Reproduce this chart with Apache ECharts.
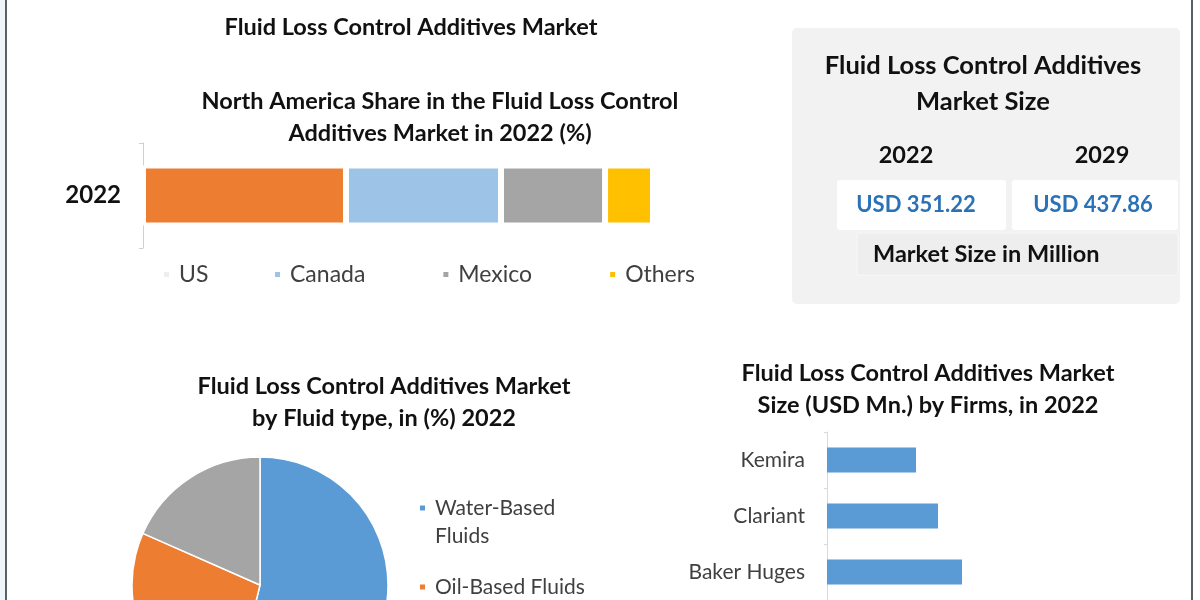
<!DOCTYPE html>
<html>
<head>
<meta charset="utf-8">
<script src="https://cdn.jsdelivr.net/npm/echarts@6/dist/echarts.min.js"></script>
<style>
html,body{margin:0;padding:0;background:#fff;}
#c{width:1200px;height:600px;}
</style>
</head>
<body>
<div id="c"></div>
<script>
// ---- data ----
const naCategories = ['2022'];
const naSeriesNames = ['US', 'Canada', 'Mexico', 'Others'];
const naShares = [39.8, 30.4, 20.4, 9.4];
const fluidTypes = ['Water-Based Fluids', 'Oil-Based Fluids', 'Synthetic-Based Fluids'];
const fluidShares = [53.8, 27.8, 18.4];
const firms = ['Kemira', 'Clariant', 'Baker Huges'];
const firmSizes = [8.9, 11.1, 13.5];
const sizeYears = ['2022', '2029'];
const sizeValues = ['USD 351.22', 'USD 437.86'];

const FONT = 'Lato';
const naColors = ['#ed7d31', '#9dc3e6', '#a5a5a5', '#ffc000'];
const pieColors = ['#5b9bd5', '#ed7d31', '#a5a5a5'];

const chart = echarts.init(document.getElementById('c'), null, {renderer: 'canvas'});

const titleBase = {textAlign: 'center', padding: 0,
  textStyle: {fontFamily: FONT, fontWeight: 'bold', fontSize: 23.5, color: '#111', lineHeight: 32}};

const naLegendBase = {top: 263, padding: 0, itemWidth: 7, itemHeight: 7, itemGap: 76, icon: 'rect',
  textStyle: {fontFamily: FONT, fontSize: 23, color: '#404040', padding: [0, 0, 0, 4]}};

const option = {
  backgroundColor: '#ffffff',
  animation: false,
  title: [
    Object.assign({}, titleBase, {text: 'Fluid Loss Control Additives Market', left: 411, top: 11}),
    Object.assign({}, titleBase, {text: 'North America Share in the Fluid Loss Control\nAdditives Market in 2022 (%)', left: 440, top: 85}),
    Object.assign({}, titleBase, {text: 'Fluid Loss Control Additives Market\nby Fluid type, in (%) 2022', left: 384, top: 370}),
    Object.assign({}, titleBase, {text: 'Fluid Loss Control Additives Market\nSize (USD Mn.) by Firms, in 2022', left: 928, top: 357}),
    Object.assign({}, titleBase, {text: 'Fluid Loss Control Additives\nMarket Size', left: 983, top: 48, z: 10,
      textStyle: {fontFamily: FONT, fontWeight: 'bold', fontSize: 25.5, color: '#111', lineHeight: 36}})
  ],
  legend: [
    Object.assign({}, naLegendBase, {
      data: [{name: naSeriesNames[0], itemStyle: {color: '#eeeeee'}}], left: 162
    }),
    Object.assign({}, naLegendBase, {
      data: naSeriesNames.slice(1), left: 273
    }),
    {
      data: fluidTypes,
      formatter: function (name) { return (name === fluidTypes[0] ? '\n' : '') + name; },
      orient: 'vertical', left: 418, top: 466, height: 600, padding: 0, itemWidth: 7, itemHeight: 7, itemGap: 23, icon: 'rect',
      textStyle: {fontFamily: FONT, fontSize: 21, color: '#404040', lineHeight: 28, width: 165, overflow: 'break', padding: [0, 0, 0, 4]}
    }
  ],
  grid: [
    {left: 143, top: 143, width: 510, height: 105, containLabel: false},
    {left: 827, top: 432, width: 350, height: 168, containLabel: false}
  ],
  xAxis: [
    {gridIndex: 0, type: 'value', min: 0, max: 100, show: false},
    {gridIndex: 1, type: 'value', min: 0, max: 35, show: false}
  ],
  yAxis: [
    {gridIndex: 0, type: 'category', data: naCategories,
      axisLine: {show: true, lineStyle: {color: '#d0d0d0'}},
      axisTick: {show: true, length: 4, lineStyle: {color: '#d0d0d0'}},
      axisLabel: {fontFamily: FONT, fontWeight: 'bold', fontSize: 24, color: '#111', margin: 22},
      splitLine: {show: false}},
    {gridIndex: 1, type: 'category', data: firms, inverse: true, offset: 3,
      axisLine: {show: true, lineStyle: {color: '#d9d9d9'}},
      axisTick: {show: true, length: 3, lineStyle: {color: '#d9d9d9'}},
      axisLabel: {fontFamily: FONT, fontSize: 21, color: '#404040', margin: 19},
      splitLine: {show: false}}
  ],
  series: naSeriesNames.map((n, i) => ({
    name: n, type: 'bar', stack: 'na', xAxisIndex: 0, yAxisIndex: 0, barWidth: 60,
    data: [naShares[i]],
    itemStyle: {color: naColors[i], borderColor: '#ffffff', borderWidth: 3}
  })).concat([
    {
      name: 'Firms', type: 'bar', xAxisIndex: 1, yAxisIndex: 1, barWidth: 25,
      data: firmSizes, itemStyle: {color: '#5b9bd5'}
    },
    {
      name: 'Fluid type', type: 'pie', center: [260, 585], radius: 128, startAngle: 90, clockwise: true,
      label: {show: false}, labelLine: {show: false},
      data: fluidTypes.map((n, i) => ({name: n, value: fluidShares[i], itemStyle: {color: pieColors[i]}})),
      itemStyle: {borderColor: '#ffffff', borderWidth: 1.5}
    }
  ]),
  graphic: [
    {type: 'rect', shape: {x: 0, y: 0, width: 5, height: 600}, style: {fill: '#eef6fa'}, silent: true},
    {type: 'rect', shape: {x: 5, y: 0, width: 2, height: 600}, style: {fill: '#5a6068'}, silent: true},
    {type: 'rect', shape: {x: 1191, y: 0, width: 2, height: 600}, style: {fill: '#5a6068'}, silent: true},
    {type: 'rect', shape: {x: 792, y: 28, width: 388, height: 276, r: 5}, style: {fill: '#f2f2f2'}, silent: true, z: 0},
    {type: 'rect', shape: {x: 837, y: 180, width: 169, height: 50, r: 3}, style: {fill: '#ffffff'}, silent: true, z: 1},
    {type: 'rect', shape: {x: 1012, y: 180, width: 166, height: 50, r: 3}, style: {fill: '#ffffff'}, silent: true, z: 1},
    {type: 'rect', shape: {x: 857, y: 233, width: 321, height: 42, r: 2}, style: {fill: '#eeeeee', stroke: '#f7f7f7', lineWidth: 1}, silent: true, z: 1},
    {type: 'text', x: 906, y: 155, z: 5, style: {text: sizeYears[0], fontFamily: FONT, fontWeight: 'bold', fontSize: 23.5, fill: '#111', align: 'center', verticalAlign: 'middle'}},
    {type: 'text', x: 1102, y: 155, z: 5, style: {text: sizeYears[1], fontFamily: FONT, fontWeight: 'bold', fontSize: 23.5, fill: '#111', align: 'center', verticalAlign: 'middle'}},
    {type: 'text', x: 916, y: 205, z: 5, style: {text: sizeValues[0], fontFamily: FONT, fontWeight: 'bold', fontSize: 22, fill: '#2a72b5', align: 'center', verticalAlign: 'middle'}},
    {type: 'text', x: 1093, y: 205, z: 5, style: {text: sizeValues[1], fontFamily: FONT, fontWeight: 'bold', fontSize: 22, fill: '#2a72b5', align: 'center', verticalAlign: 'middle'}},
    {type: 'text', x: 873, y: 254, z: 5, style: {text: 'Market Size in Million', fontFamily: FONT, fontWeight: 'bold', fontSize: 23.5, fill: '#111', align: 'left', verticalAlign: 'middle'}}
  ]
};
chart.setOption(option);
</script>
</body>
</html>
